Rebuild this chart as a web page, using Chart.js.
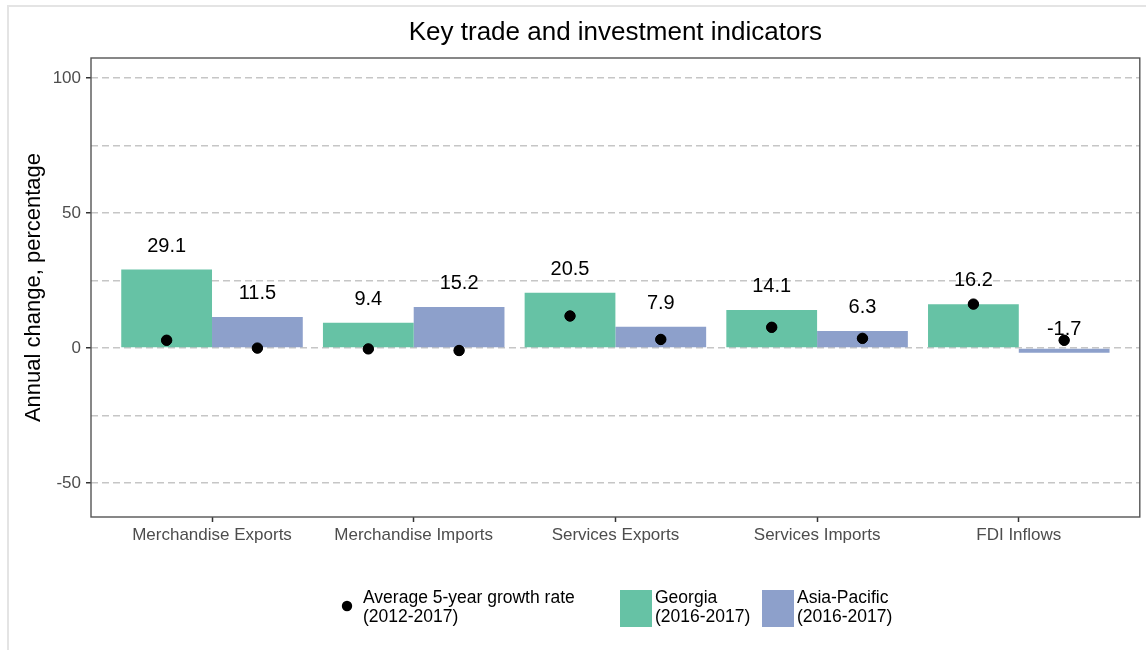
<!DOCTYPE html>
<html>
<head>
<meta charset="utf-8">
<script src="https://cdn.jsdelivr.net/npm/chart.js@4.4.1/dist/chart.umd.min.js"></script>
<style>
html,body{margin:0;padding:0;background:#fff;}
#wrap{width:1146px;height:650px;position:relative;}
</style>
</head>
<body>
<div id="wrap"><canvas id="c" width="1146" height="650"></canvas></div>
<script>
const categories = ['Merchandise Exports', 'Merchandise Imports', 'Services Exports', 'Services Imports', 'FDI Inflows'];
const georgia = [29.1, 9.4, 20.5, 14.1, 16.2];
const asiaPacific = [11.5, 15.2, 7.9, 6.3, -1.7];
const georgiaAvg5y = [2.9, -0.3, 11.9, 7.7, 16.3];
const asiaPacificAvg5y = [0.0, -0.9, 3.2, 3.6, 2.9];
const yTicks = [-50, -25, 0, 25, 50, 75, 100];

const chartTitle = 'Key trade and investment indicators';
const yTitle = 'Annual change, percentage';
const legendDot = ['Average 5-year growth rate', '(2012-2017)'];
const legendGeorgia = ['Georgia', '(2016-2017)'];
const legendAsia = ['Asia-Pacific', '(2016-2017)'];

const GREEN = '#66c2a5';
const BLUE = '#8da0cb';
const FONT = '"Liberation Sans", Arial, sans-serif';
const DODGE = 0.9;

const barData = (arr) => arr.map((v, i) => ({x: i, y: v}));
const dotData = [];
[georgiaAvg5y, asiaPacificAvg5y].forEach((arr, j) => {
  arr.forEach((v, i) => dotData.push({x: i + (j - 0.5) * DODGE / 2, y: v}));
});

const decor = {
  id: 'decor',
  beforeDraw(chart) {
    const ctx = chart.ctx;
    ctx.save();
    ctx.strokeStyle = '#e4e4e4';
    ctx.lineWidth = 2;
    ctx.beginPath();
    ctx.moveTo(7, 6); ctx.lineTo(1146, 6);
    ctx.moveTo(8, 6); ctx.lineTo(8, 650);
    ctx.stroke();
    ctx.restore();
  },
  afterDatasetsDraw(chart) {
    const ctx = chart.ctx;
    const y = chart.scales.y;
    ctx.save();
    ctx.fillStyle = '#000';
    ctx.font = '20px ' + FONT;
    ctx.textAlign = 'center';
    ctx.textBaseline = 'middle';
    [0, 1].forEach(di => {
      const meta = chart.getDatasetMeta(di);
      const vals = di === 0 ? georgia : asiaPacific;
      meta.data.forEach((el, i) => {
        ctx.fillText(vals[i].toFixed(1), el.x, y.getPixelForValue(vals[i] + 8.7));
      });
    });
    const dm = chart.getDatasetMeta(2);
    dm.data.forEach(el => {
      ctx.beginPath();
      ctx.arc(el.x, el.y, 5.2, 0, Math.PI * 2);
      ctx.fill();
    });
    ctx.restore();
  },
  afterDraw(chart) {
    const ctx = chart.ctx;
    const a = chart.chartArea;
    ctx.save();
    ctx.strokeStyle = '#555';
    ctx.lineWidth = 1.4;
    ctx.strokeRect(a.left, a.top, a.right - a.left, a.bottom - a.top);
    ctx.fillStyle = '#000';
    ctx.font = '26px ' + FONT;
    ctx.textAlign = 'center';
    ctx.textBaseline = 'middle';
    ctx.fillText(chartTitle, (a.left + a.right) / 2, 33);
    ctx.save();
    ctx.translate(34, (a.top + a.bottom) / 2);
    ctx.rotate(-Math.PI / 2);
    ctx.font = '22px ' + FONT;
    ctx.fillText(yTitle, 0, 0);
    ctx.restore();
    ctx.font = '17.5px ' + FONT;
    ctx.textAlign = 'left';
    ctx.fillStyle = '#000';
    ctx.beginPath();
    ctx.arc(347, 606, 5.2, 0, Math.PI * 2);
    ctx.fill();
    ctx.fillText(legendDot[0], 363, 598);
    ctx.fillText(legendDot[1], 363, 617);
    ctx.fillStyle = GREEN;
    ctx.fillRect(620, 590, 32, 37);
    ctx.fillStyle = BLUE;
    ctx.fillRect(762, 590, 32, 37);
    ctx.fillStyle = '#000';
    ctx.fillText(legendGeorgia[0], 655, 598);
    ctx.fillText(legendGeorgia[1], 655, 617);
    ctx.fillText(legendAsia[0], 797, 598);
    ctx.fillText(legendAsia[1], 797, 617);
    ctx.restore();
  }
};

new Chart(document.getElementById('c'), {
  type: 'bar',
  data: {
    datasets: [
      {label: 'Georgia (2016-2017)', data: barData(georgia), backgroundColor: GREEN, order: 1,
       categoryPercentage: DODGE, barPercentage: 1.0},
      {label: 'Asia-Pacific (2016-2017)', data: barData(asiaPacific), backgroundColor: BLUE, order: 1,
       categoryPercentage: DODGE, barPercentage: 1.0},
      {type: 'scatter', label: 'Average 5-year growth rate (2012-2017)', data: dotData,
       backgroundColor: '#000', borderColor: '#000', pointRadius: 5.2, order: 0, showLine: false}
    ]
  },
  options: {
    responsive: false,
    animation: false,
    devicePixelRatio: 1,
    layout: {padding: {top: 58, right: 5, left: 0, bottom: 0}},
    plugins: {legend: {display: false}, tooltip: {enabled: false}, title: {display: false}},
    scales: {
      x: {
        type: 'linear',
        offset: false,
        min: -0.6, max: 4.6,
        afterBuildTicks(s) { s.ticks = categories.map((c, i) => ({value: i})); },
        afterFit(s) { s.height = 133; },
        ticks: {
          callback: (v) => categories[v],
          color: '#4d4d4d',
          font: {family: FONT, size: 17},
          padding: 3,
          maxRotation: 0, autoSkip: false
        },
        grid: {offset: false, drawOnChartArea: false, drawTicks: true, tickLength: 5, tickColor: '#333', tickWidth: 1.5},
        border: {display: false}
      },
      y: {
        min: -62.6, max: 107.5,
        afterBuildTicks(s) { s.ticks = yTicks.map(v => ({value: v})); },
        afterFit(s) { s.width = 91; },
        ticks: {
          callback: (v) => (v % 50 === 0 ? String(v) : ''),
          color: '#4d4d4d',
          font: {family: FONT, size: 17},
          padding: 5
        },
        grid: {
          color: '#c6c6c6', lineWidth: 1.5,
          tickLength: 5, tickWidth: 1.5,
          tickColor: (ctx) => (ctx.tick && ctx.tick.value % 50 === 0 ? '#333' : 'rgba(0,0,0,0)')
        },
        border: {display: false, dash: [7, 4]}
      }
    }
  },
  plugins: [decor]
});
</script>
</body>
</html>
